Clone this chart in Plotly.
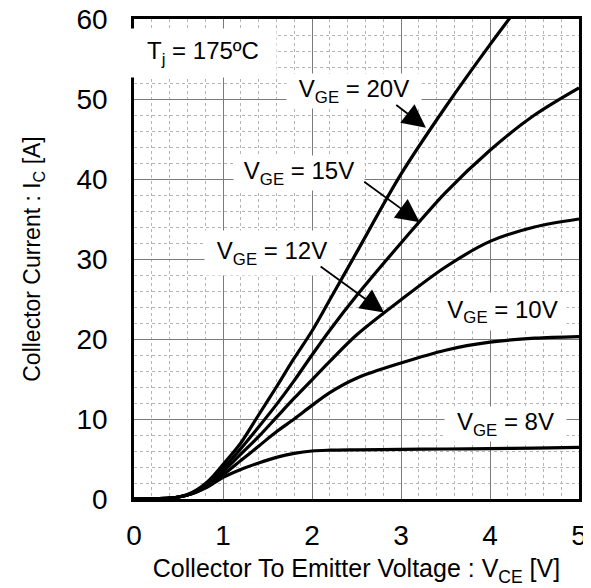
import plotly.graph_objects as go

# ---- data ----
vce = [0, 0.2, 0.4, 0.5, 0.6, 0.7, 0.8, 0.9, 1.0, 1.2, 1.4, 1.6, 1.8, 2.0, 2.2, 2.5, 3.0, 3.5, 4.0, 4.5, 5.0]
ic_20v = [0, 0.02, 0.1, 0.25, 0.55, 1.1, 1.9, 3.0, 4.3, 7.0, 10.5, 14.0, 17.6, 21.0, 24.9, 30.8, 40.6, 49.0, 56.8, 64.2, 71.5]
ic_15v = [0, 0.02, 0.1, 0.25, 0.5, 1.0, 1.7, 2.7, 3.8, 6.3, 9.0, 11.8, 14.8, 18.0, 21.1, 25.4, 32.0, 38.3, 43.6, 48.0, 51.4]
ic_12v = [0, 0.02, 0.1, 0.25, 0.5, 0.95, 1.6, 2.4, 3.4, 5.6, 7.8, 10.2, 12.6, 14.9, 17.2, 20.5, 24.9, 29.0, 32.2, 34.0, 35.0]
ic_10v = [0, 0.02, 0.1, 0.25, 0.5, 0.9, 1.5, 2.2, 3.0, 4.8, 6.6, 8.4, 10.0, 11.7, 13.3, 15.1, 17.0, 18.6, 19.6, 20.1, 20.3]
ic_8v = [0, 0.02, 0.1, 0.25, 0.5, 0.85, 1.35, 2.0, 2.7, 3.7, 4.5, 5.2, 5.7, 6.0, 6.1, 6.15, 6.2, 6.25, 6.3, 6.35, 6.45]

series = [ic_20v, ic_15v, ic_12v, ic_10v, ic_8v]

x_ticks = [0, 1, 2, 3, 4, 5]
y_ticks = [0, 10, 20, 30, 40, 50, 60]

# label text, label anchor (V, I), box width/height
labels = [
    ("T<sub>j</sub> = 175ºC", 0.78, 55.8, 144, 46),
    ("V<sub>GE</sub> = 20V", 2.47, 51.0, 132, 32),
    ("V<sub>GE</sub> = 15V", 1.85, 40.8, 128, 32),
    ("V<sub>GE</sub> = 12V", 1.55, 30.7, 132, 42),
    ("V<sub>GE</sub> = 10V", 4.14, 23.5, 125, 35),
    ("V<sub>GE</sub> = 8V", 4.17, 9.4, 119, 32),
]
# arrows: tail (V, I) -> head (V, I)
arrows = [
    (2.93, 49.4, 3.28, 46.4),
    (2.57, 39.8, 3.21, 34.6),
    (2.08, 29.2, 2.81, 23.3),
]

FONT = "Arial, Liberation Sans, sans-serif"

fig = go.Figure()
for s in series:
    fig.add_trace(go.Scatter(x=vce, y=s, mode="lines",
                             line=dict(color="black", width=3.2, shape="spline", smoothing=0.9),
                             showlegend=False, hoverinfo="skip"))

for txt, xv, yv, w, h in labels:
    fig.add_annotation(x=xv, y=yv, xref="x", yref="y", text=txt, showarrow=False,
                       bgcolor="white", width=w, height=h,
                       font=dict(family=FONT, size=24, color="black"))

for tx, ty, hx, hy in arrows:
    fig.add_annotation(x=hx, y=hy, ax=tx, ay=ty, xref="x", yref="y", axref="x", ayref="y",
                       text="", showarrow=True, arrowhead=2, arrowsize=2.6, arrowwidth=1.8,
                       arrowcolor="black", standoff=0, startstandoff=0)

axis_common = dict(
    showline=True, linecolor="black", linewidth=2.5, mirror=True,
    showgrid=True, gridcolor="#7a7a7a", gridwidth=1,
    ticks="outside", tickcolor="rgba(0,0,0,0)",
    tickfont=dict(family=FONT, size=28, color="black"),
    zeroline=False, automargin=False, ticklabeloverflow="allow",
)

fig.update_xaxes(range=[0, 5], tickvals=x_ticks, ticklen=10,
                 minor=dict(dtick=0.2, showgrid=True, gridcolor="#b5b5b5", griddash="dot", gridwidth=1),
                 title=dict(text="Collector To Emitter Voltage : V<sub>CE</sub> [V]",
                            font=dict(family=FONT, size=25, color="black"), standoff=10),
                 **axis_common)
fig.update_yaxes(range=[0, 60], tickvals=y_ticks, ticklen=18,
                 minor=dict(dtick=2, showgrid=True, gridcolor="#b5b5b5", griddash="dot", gridwidth=1),
                 title=dict(text="Collector Current : I<sub>C</sub> [A]",
                            font=dict(family=FONT, size=23, color="black"), standoff=30),
                 **axis_common)

fig.update_layout(width=591, height=588, paper_bgcolor="white", plot_bgcolor="white",
                  margin=dict(l=126, r=20, t=11, b=97), showlegend=False)

fig.write_html("out.html")
